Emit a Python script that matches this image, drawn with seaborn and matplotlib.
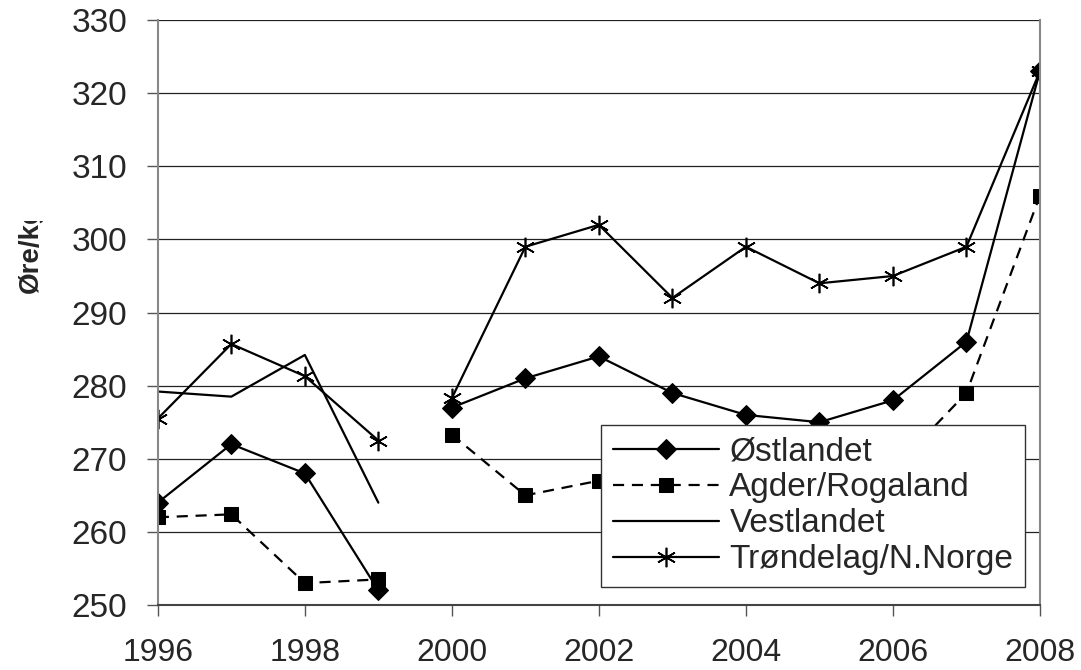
import numpy as np
import pandas as pd
import seaborn as sns
import matplotlib.pyplot as plt
from matplotlib.transforms import Bbox

# data (NaN = no value / gap)
years = [1996, 1997, 1998, 1999, 2000, 2001, 2002, 2003, 2004, 2005, 2006, 2007, 2008]
ostlandet = [264, 272, 268, 252, 277, 281, 284, 279, 276, 275, 278, 286, 323]
agder = [262, 262.4, 253, 253.5, 273.3, 265, 267, 266, 265, 266, 268.5, 279, 306]
vestlandet = [279.2, 278.5, 284.2, 264, np.nan, np.nan, np.nan, np.nan, np.nan, np.nan, np.nan, np.nan, np.nan]
trondelag = [275.5, 285.7, 281.3, 272.5, 278.3, 299, 302, 292, 299, 294, 295, 299, 323]
names = ['Østlandet', 'Agder/Rogaland', 'Vestlandet', 'Trøndelag/N.Norge']

sns.set_style('white')
plt.rcParams['font.family'] = ['Liberation Sans', 'DejaVu Sans']

fig = plt.figure(figsize=(10.81, 6.70), dpi=100)
ax = fig.add_axes([0.146, 0.097, 0.816, 0.873])

styles = {
    'Østlandet': dict(marker='D', markersize=10, linestyle='-'),
    'Agder/Rogaland': dict(marker='s', markersize=10, linestyle=(0, (5, 3.5))),
    'Vestlandet': dict(marker=None, linestyle='-'),
    'Trøndelag/N.Norge': dict(marker=(6, 2, 0), markersize=14, markeredgewidth=1.2, linestyle='-'),
}

for name, vals in zip(names, [ostlandet, agder, vestlandet, trondelag]):
    df = pd.DataFrame({'year': years, 'value': vals})
    segs = [df[df.year <= 1999], df[df.year >= 2000]]
    first = True
    for seg in segs:
        seg = seg.dropna()
        if seg.empty:
            continue
        sns.lineplot(data=seg, x='year', y='value', ax=ax, color='black', linewidth=1.6,
                     markeredgecolor='black', label=name if first else None, legend=False,
                     **styles[name])
        first = False

ax.set_xlim(1996, 2008)
ax.set_ylim(250, 330)
ax.set_xticks(range(1996, 2009, 2))
ax.set_yticks(range(250, 331, 10))
ax.yaxis.grid(True, color='#222222', linewidth=0.9)
ax.xaxis.grid(False)
ax.tick_params(axis='both', labelsize=23, direction='out', length=8, width=1,
               color='#555555', bottom=True, left=True)
ax.tick_params(axis='y', labelsize=24, pad=14)
ax.tick_params(axis='x', pad=16)
ax.set_xlabel('')
ax.set_ylabel('')
for s in ['left', 'right']:
    ax.spines[s].set_color('#888888')
    ax.spines[s].set_linewidth(1.5)
ax.spines['top'].set_visible(False)
ax.spines['bottom'].set_color('#444444')
ax.spines['bottom'].set_linewidth(1.5)

# y label, cut off at the top like in the original
ylab = fig.text(31 / 1081, 1 - 293 / 670, 'Øre/kg', rotation=90, fontsize=20,
                fontweight='bold', ha='center', va='bottom')
ylab.set_clip_box(Bbox([[0, 0], [100, 670 - 221]]))
ylab.set_clip_on(True)

leg = ax.legend(loc='lower right', bbox_to_anchor=(0.983, 0.031), borderaxespad=0,
                fontsize=24, frameon=True, fancybox=False, edgecolor='#333333',
                framealpha=1, handlelength=3.2, handletextpad=0.3, labelspacing=0.15,
                borderpad=0.35)
leg.get_frame().set_linewidth(1)

fig.savefig('out.png', dpi=100)
